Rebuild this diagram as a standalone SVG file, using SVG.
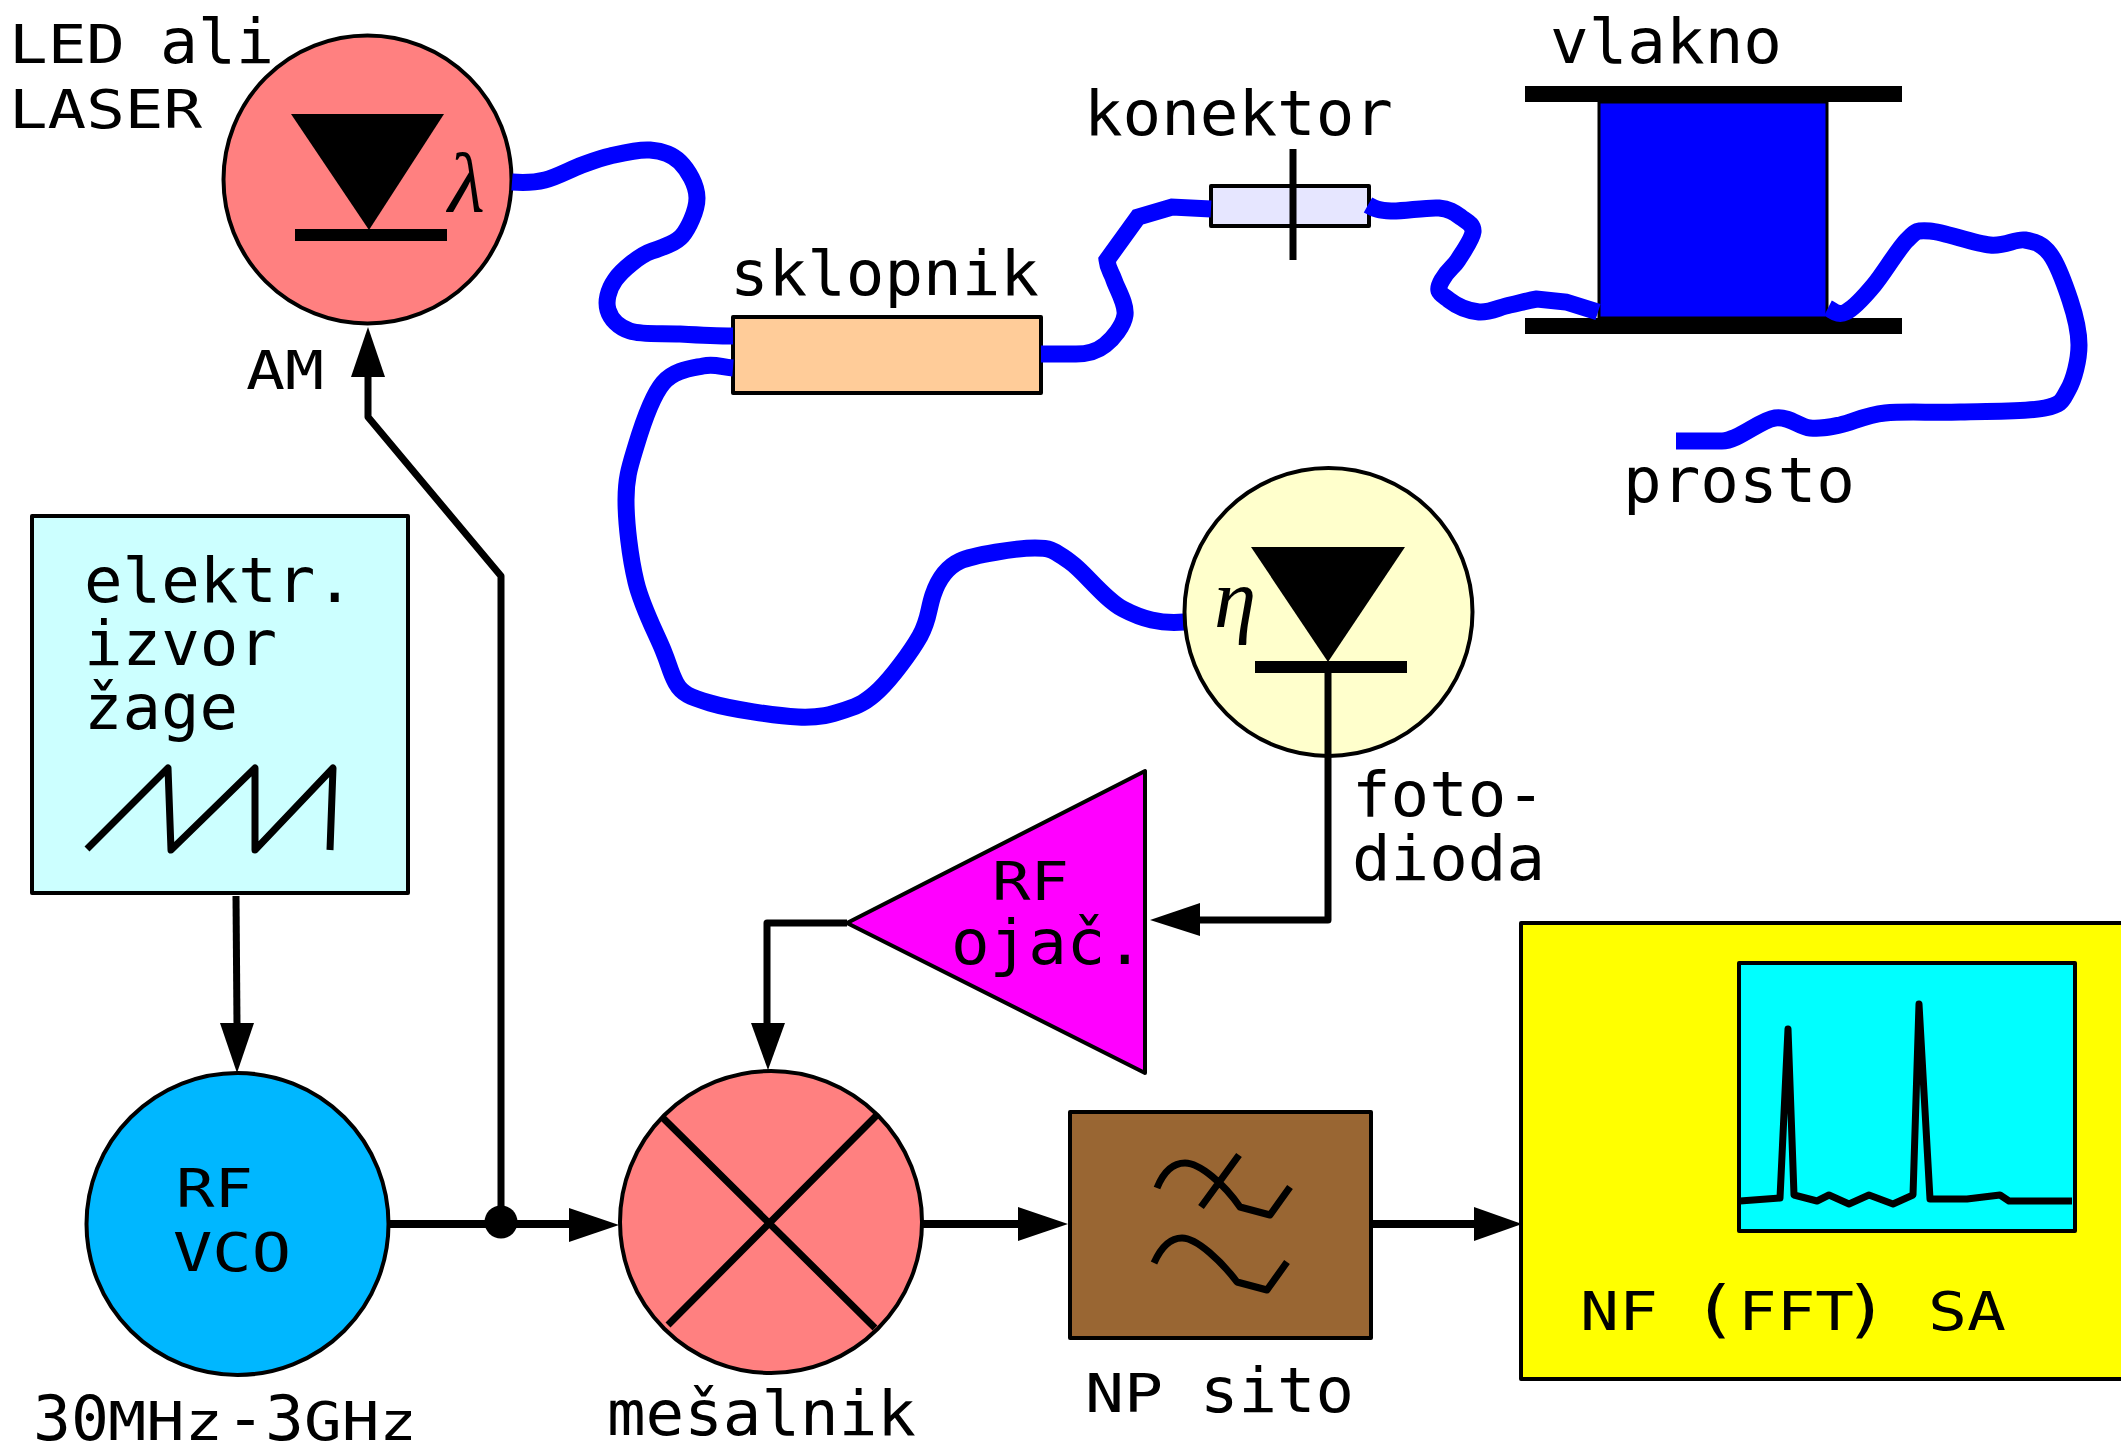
<svg xmlns="http://www.w3.org/2000/svg" width="2121" height="1446" viewBox="0 0 2121 1446">
<style>
text{font-family:"DejaVu Sans Mono","Liberation Mono",monospace;font-size:62px;fill:#000}
text.c{font-size:54px}
.g{font-family:"Liberation Serif",serif;font-style:italic;font-size:85px}
.n{stroke:#000;stroke-width:4;stroke-linejoin:round}
.l{fill:none;stroke:#000;stroke-width:7;stroke-linejoin:round}
.b{fill:none;stroke:#000;stroke-width:8}
.f{fill:none;stroke:#00f;stroke-width:17}
.a{fill:#000}
</style>
<rect width="2121" height="1446" fill="#fff"/>
<g id="led"><circle class="n" cx="367.5" cy="179.5" r="144" fill="#ff8080"/><polygon class="a" points="291,114 444,114 369,230"/><rect x="295" y="229" width="152" height="12"/><text class="g" x="448" y="211">λ</text></g>
<g id="led-label"><text class="c" x="9" y="63" textLength="116" lengthAdjust="spacingAndGlyphs">LED</text><text x="160" y="63" textLength="114" lengthAdjust="spacingAndGlyphs">ali</text><text class="c" x="9" y="128" textLength="193" lengthAdjust="spacingAndGlyphs">LASER</text></g>
<text id="am-label" class="c" x="246" y="389" textLength="78" lengthAdjust="spacingAndGlyphs">AM</text>
<g id="sklopnik"><rect class="n" x="733" y="317" width="308" height="76" fill="#ffcc99"/><text x="730" y="295" textLength="309" lengthAdjust="spacingAndGlyphs">sklopnik</text></g>
<g id="konektor"><rect class="n" x="1211" y="186" width="158" height="40" fill="#e6e6ff"/><line x1="1293" y1="149" x2="1293" y2="260" stroke="#000" stroke-width="7"/><text x="1084" y="135" textLength="309" lengthAdjust="spacingAndGlyphs">konektor</text></g>
<g id="vlakno"><rect x="1599" y="102" width="228" height="216" fill="#00f" stroke="#000" stroke-width="3"/><rect x="1525" y="86" width="377" height="16"/><rect x="1525" y="318" width="377" height="16"/><text x="1550" y="63" textLength="232" lengthAdjust="spacingAndGlyphs">vlakno</text></g>
<text id="prosto" x="1623" y="502" textLength="232" lengthAdjust="spacingAndGlyphs">prosto</text>
<g id="connectors">
<path class="f" d="M512 182C525 183 534 182.7 545 180S571 169 582 165S599 158.5 610 156S638 149 650 150S672 154 680 162S697 185 697 198S688 229 682 236S664 247 652 251S622 270 615 280S605.5 301.5 608 310S618 327 630 331S663 333 680 334S715 336 733 336"/>
<path class="f" d="M1041 354C1055 354 1065 354 1076 354S1097 351.5 1105 345S1123.500 326 1125 315S1117 289 1114 280S1108 270 1107 260L1138 217L1172 207L1211 209"/>
<path class="f" d="M1368 205C1375 209 1379 210.500 1391 211S1427 207 1439 208S1456 214 1462 218S1473.700 225 1473 232S1463 252 1458 260S1449 268 1442 280S1440 293 1449 300S1469 311 1479 312S1500 307 1510 305S1525 301 1537 299L1566 302L1598 312"/>
<path class="f" d="M1828 308C1834 311 1838 316 1846 312S1864 297 1874 285S1898 249 1907 240S1916 230 1930 231S1974 243.500 1990 245S2015 238.500 2025 240S2042.500 244 2050 254S2065 285 2070 300S2079 330 2079 345S2074 379.500 2068 390S2063 404 2045 408S1987 411 1960 412S1905 411 1885 413S1852.500 422.500 1840 425S1821 429 1810 428S1790 416 1775 418S1738 441 1722 441L1676 441"/>
<path class="f" d="M733 368C720 367 715 363.500 703 366S674 370 663 383S642 426 636 446S626 477 626 500S630 557 636 582S656 633 663 650S670 672 676 683S690 697 710 703S776 716 798 717S831.500 714.500 845 710S866.500 702 879 690S911 652 920 636S928 610 933 595S947 567 960 561S1017 548 1035 548S1054 551 1069 561S1104 599 1123 609S1160 624 1184 622"/>
</g>
<g id="arrows">
<path class="l" d="M368 375V417L501 576V1224"/>
<polygon class="a" points="368,327 351,377 385,377"/>
<path class="l" d="M236 896L237 1025"/>
<polygon class="a" points="237,1073 220,1023 254,1023"/>
<path class="b" d="M388 1224H570"/>
<circle class="a" cx="501" cy="1222" r="16.5"/>
<polygon class="a" points="619,1225 569,1208 569,1242"/>
<path class="b" d="M922 1224H1020"/>
<polygon class="a" points="1068,1224 1018,1207 1018,1241"/>
<path class="b" d="M1372 1224H1476"/>
<polygon class="a" points="1522,1224 1474,1207 1474,1241"/>
<path class="l" d="M1328 662V920H1198"/>
<polygon class="a" points="1150,920 1200,903 1200,936"/>
<path class="l" d="M847 923H767V1025"/>
<polygon class="a" points="768,1070 751,1023 785,1023"/>
</g>
<g id="photodiode"><circle class="n" cx="1328.500" cy="612" r="144" fill="#ffffcc"/><polygon class="a" points="1251,547 1405,547 1328,662"/><rect x="1255" y="661" width="152" height="12"/><line x1="1328" y1="662" x2="1328" y2="756" stroke="#000" stroke-width="7"/><text class="g" x="1214" y="627">η</text></g>
<g id="foto-label"><text x="1352" y="816" textLength="193" lengthAdjust="spacingAndGlyphs">foto-</text><text x="1352" y="880" textLength="193" lengthAdjust="spacingAndGlyphs">dioda</text></g>
<g id="izvor"><rect class="n" x="32" y="516" width="376" height="377" fill="#ccffff"/><text x="84" y="602" textLength="270" lengthAdjust="spacingAndGlyphs">elektr.</text><text x="84" y="665" textLength="193" lengthAdjust="spacingAndGlyphs">izvor</text><text x="84" y="729" textLength="154" lengthAdjust="spacingAndGlyphs">žage</text><path class="l" d="M87 849L168 768L171 850L255 768V850L333 768L330 850"/></g>
<g id="vco"><circle class="n" cx="237.500" cy="1224" r="151" fill="#00b7ff"/><text class="c" x="176" y="1207" textLength="77" lengthAdjust="spacingAndGlyphs">RF</text><text class="c" x="173" y="1271" textLength="118" lengthAdjust="spacingAndGlyphs">VCO</text></g>
<g id="vco-label"><text x="33" y="1440" textLength="76" lengthAdjust="spacingAndGlyphs">30</text><text class="c" x="108" y="1440" textLength="115" lengthAdjust="spacingAndGlyphs">MHz</text><text x="226" y="1440" textLength="78" lengthAdjust="spacingAndGlyphs">-3</text><text class="c" x="304" y="1440" textLength="113" lengthAdjust="spacingAndGlyphs">GHz</text></g>
<g id="mixer"><circle class="n" cx="771" cy="1222" r="151" fill="#ff8080"/><path class="l" d="M663 1118L875 1328M877 1115L668 1325"/><text x="607" y="1435" textLength="309" lengthAdjust="spacingAndGlyphs">mešalnik</text></g>
<g id="amp"><polygon class="n" points="847,923 1145,771 1145,1073" fill="#f0f"/><text class="c" x="992" y="900" textLength="77" lengthAdjust="spacingAndGlyphs">RF</text><text x="951" y="964" textLength="193" lengthAdjust="spacingAndGlyphs">ojač.</text></g>
<g id="filter"><rect class="n" x="1070" y="1112" width="301" height="226" fill="#963"/><path class="l" d="M1157 1188C1165 1168 1175 1163 1185 1163C1200 1163 1225 1185 1240 1207L1270 1215L1290 1187M1239 1155L1201 1207M1154 1263C1162 1245 1172 1238 1182 1238C1197 1238 1222 1262 1237 1282L1267 1290L1287 1262"/><text class="c" x="1085" y="1412" textLength="78" lengthAdjust="spacingAndGlyphs">NP</text><text x="1200" y="1412" textLength="154" lengthAdjust="spacingAndGlyphs">sito</text></g>
<g id="analyzer"><rect class="n" x="1521" y="923" width="610" height="456" fill="#ff0"/><rect class="n" x="1739" y="963" width="336" height="268" fill="#0ff"/><path class="l" d="M1740 1201L1780 1198L1788 1029L1794 1195L1817 1201L1829 1195L1849 1204L1869 1195L1893 1204L1913 1195L1919 1004L1930 1199H1967L2000 1195L2009 1201H2072"/><text class="c" x="1580" y="1330" textLength="78" lengthAdjust="spacingAndGlyphs">NF</text><text x="1692" y="1330" textLength="46" lengthAdjust="spacingAndGlyphs">(</text><text class="c" x="1738" y="1330" textLength="116" lengthAdjust="spacingAndGlyphs">FFT</text><text x="1843" y="1330" textLength="46" lengthAdjust="spacingAndGlyphs">)</text><text class="c" x="1928" y="1330" textLength="78" lengthAdjust="spacingAndGlyphs">SA</text></g>
</svg>
